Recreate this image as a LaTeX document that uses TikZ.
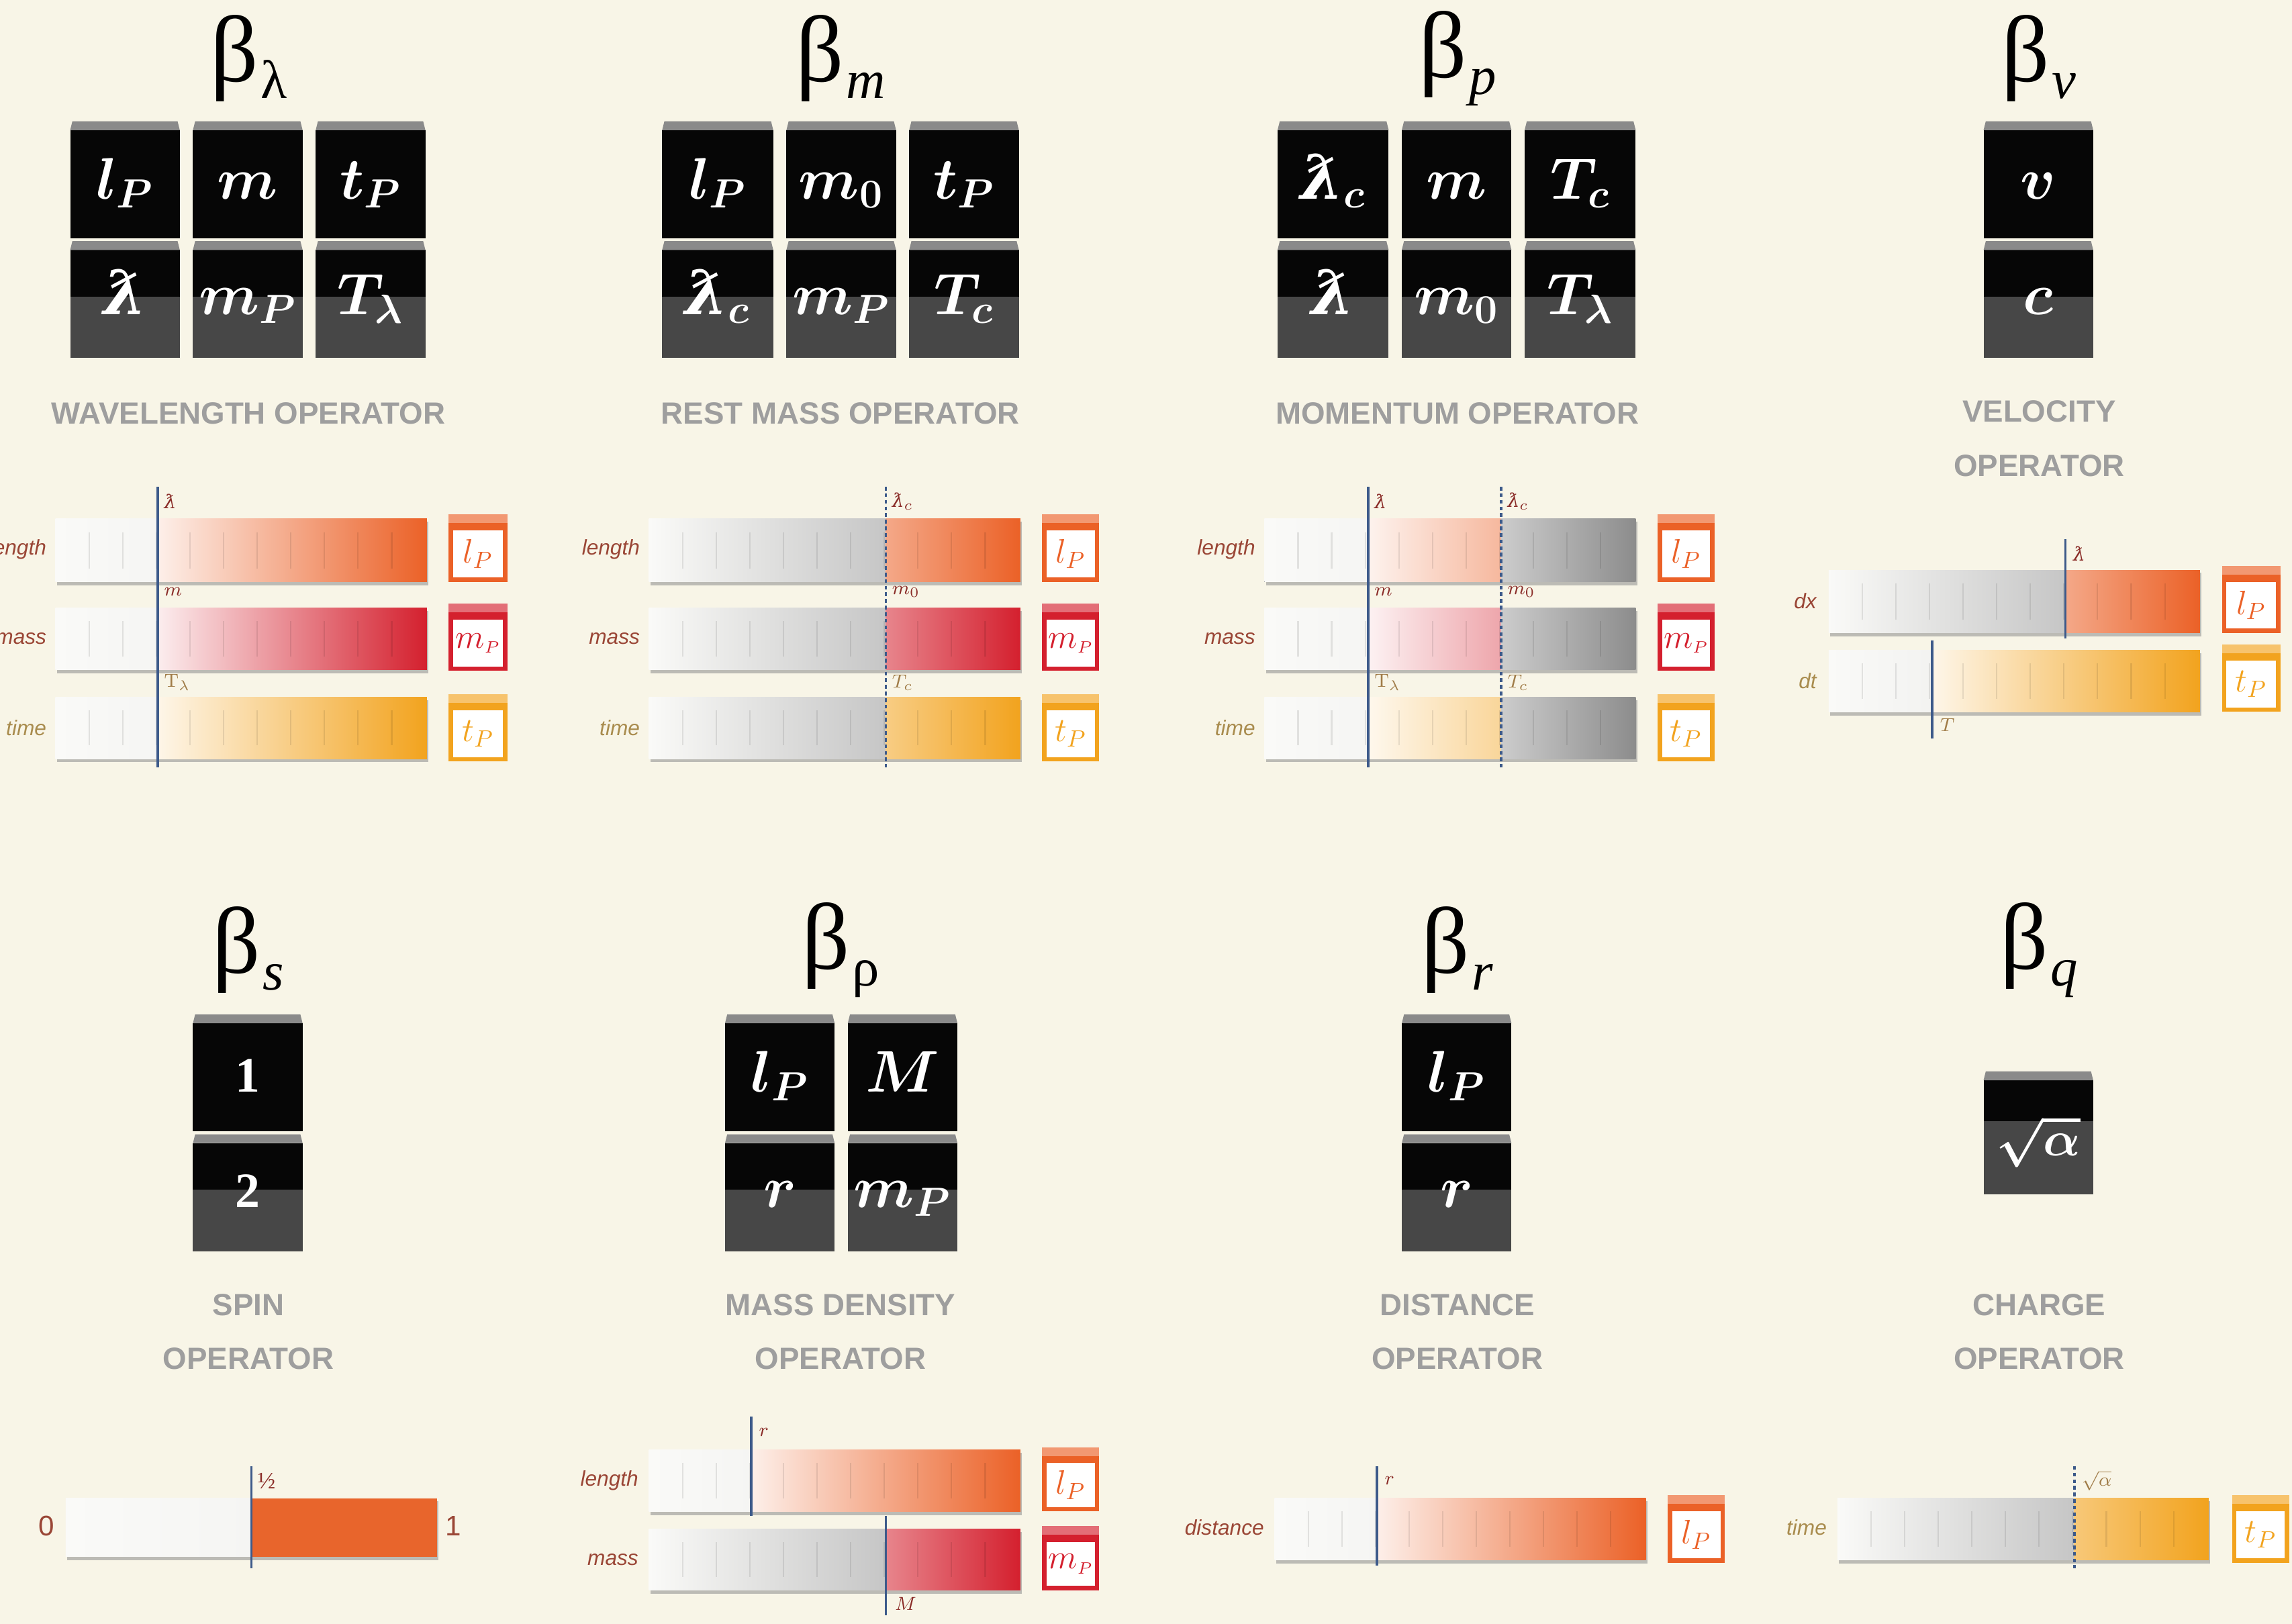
\documentclass[tikz,border=0pt]{standalone}
\usepackage[no-math]{fontspec}
\setmainfont{Liberation Serif}
\setsansfont{Liberation Sans}
\newfontfamily\dvserif{DejaVu Serif}
\definecolor{bg}{HTML}{F8F5E7}
\definecolor{blk}{HTML}{060606}
\definecolor{blkgray}{HTML}{474747}
\definecolor{strip}{HTML}{8A8A8A}
\definecolor{optext}{HTML}{9E9E9E}
\definecolor{lenc}{HTML}{EB6127}
\definecolor{massc}{HTML}{D4202E}
\definecolor{timec}{HTML}{F2A31E}
\definecolor{spinc}{HTML}{E8652C}
\definecolor{marker}{HTML}{3D5A8A}
\definecolor{lblred}{HTML}{9A4636}
\definecolor{lbltan}{HTML}{A98C4E}
\definecolor{mkred}{HTML}{8A2C28}
\definecolor{mktan}{HTML}{A07C48}
\definecolor{barwhite}{HTML}{FAFAF8}
\definecolor{bargray}{HTML}{C6C6C6}
\definecolor{bardark}{HTML}{8E8E8E}
\newcommand\lbarx{\mbox{\dvserif\itshape ƛ}}
\newcommand\lbarb{\mbox{\dvserif\bfseries\itshape ƛ}}
\newcommand\btitle[1]{\fontsize{40}{40}\selectfont β\kern1pt\raisebox{-7pt}{\fontsize{23}{23}\selectfont #1}}
\newcommand\blkTop[4]{%
  \fill[blk] (#1,{#2+6}) rectangle (#3,#4);
  \fill[strip] ({#1+1.5},#2) -- ({#3-1.5},#2) -- (#3,{#2+6}) -- (#1,{#2+6}) -- cycle;}
\newcommand\blkBot[5]{%
  \fill[blk] (#1,{#2+6}) rectangle (#3,#5);
  \fill[blkgray] (#1,#5) rectangle (#3,#4);
  \fill[strip] ({#1+1.5},#2) -- ({#3-1.5},#2) -- (#3,{#2+6}) -- (#1,{#2+6}) -- cycle;}
\newcommand\barshadow[4]{\fill[black!45,opacity=.55] ({#1+1},{#2+2}) rectangle ({#3+1},{#4+2.5});}
\newcommand\barseg[6]{\fill[left color=#5,right color=#6] (#1,#2) rectangle (#3,#4);}
\newcommand\barticks[4]{\foreach \k in {1,...,10}{\draw[black,opacity=.09,line width=.6pt] ({#1+23*\k},{#2+9}) -- ({#1+23*\k},{#4-9});}}
\newcommand\unitbox[7]{%
  \fill[#5] (#1,#2) rectangle (#3,#4);
  \fill[#5!65!white] (#1,#2) rectangle (#3,{#2+6});
  \fill[white] ({#1+3},{#2+11}) rectangle ({#3-3},{#4-3});
  \node[text=#5,font=\fontsize{14}{14}\selectfont,inner sep=0pt] (#6) at ({(#1+#3)/2},{(#2+#4+8)/2}) {#7};}
\begin{document}
\begin{tikzpicture}[x=0.021773cm,y=-0.021773cm,
  blocktxt/.style={text=white,font=\boldmath\fontsize{26}{26}\selectfont,inner sep=0pt,anchor=base},
  digit/.style={text=white,font=\bfseries\fontsize{21}{21}\selectfont,inner sep=0pt,anchor=base},
  optitle/.style={inner sep=0pt},
  oplabel/.style={text=optext,font=\sffamily\bfseries\fontsize{13}{22.9}\selectfont,inner sep=0pt,align=center},
  rowlbl/.style={font=\sffamily\itshape\fontsize{9}{9}\selectfont,inner sep=0pt,anchor=east},
  mklbl/.style={font=\fontsize{8}{8}\selectfont,inner sep=0pt,anchor=west},
  mk/.style={draw=marker,line width=1.1pt},
  mkdash/.style={mk,dash pattern=on 1.6pt off 1.2pt},
]
\fill[bg] (0,0) rectangle (1568,1111);
\useasboundingbox (0,0) rectangle (1568,1111);
\clip (0,0) rectangle (1568,1111);

% ================= Group 1: wavelength =================
\node[optitle] (t1) at (170,40) {\btitle{λ}};
\blkTop{48}{83}{123}{163}\blkTop{132}{83}{207}{163}\blkTop{216}{83}{291}{163}
\blkBot{48}{165}{123}{245}{203}\blkBot{132}{165}{207}{245}{203}\blkBot{216}{165}{291}{245}{203}
\node[blocktxt] (g1a) at (85.5,136) {$l_P$};
\node[blocktxt] (g1b) at (169.5,136) {$m$};
\node[blocktxt] (g1c) at (253.5,136) {$t_P$};
\node[blocktxt] (g1d) at (85.5,215) {$\lbarb$};
\node[blocktxt] (g1e) at (169.5,215) {$m_P$};
\node[blocktxt] (g1f) at (253.5,215) {$T_\lambda$};
\node[oplabel] (g1op) at (170,283) {WAVELENGTH OPERATOR};
% bars
\barshadow{38}{355}{292}{398}\barseg{38}{355}{108}{398}{barwhite}{barwhite!96!gray}\barseg{108}{355}{292}{398}{lenc!10!white}{lenc}\barticks{38}{355}{292}{398}
\barshadow{38}{416}{292}{458}\barseg{38}{416}{108}{458}{barwhite}{barwhite!96!gray}\barseg{108}{416}{292}{458}{massc!8!white}{massc}\barticks{38}{416}{292}{458}
\barshadow{38}{477}{292}{519}\barseg{38}{477}{108}{519}{barwhite}{barwhite!96!gray}\barseg{108}{477}{292}{519}{timec!10!white}{timec}\barticks{38}{477}{292}{519}
\draw[mk] (108,333) -- (108,525);
\node[mklbl,text=mkred] (g1m1) at (112,343) {$\lbarx$};
\node[mklbl,text=mkred] (g1m2) at (112,405) {$m$};
\node[mklbl,text=mktan] (g1m3) at (112,467) {$\mathrm{T}_\lambda$};
\node[rowlbl,text=lblred] (g1r1) at (32,376) {length};
\node[rowlbl,text=lblred] (g1r2) at (32,437) {mass};
\node[rowlbl,text=lbltan] (g1r3) at (32,498) {time};
\unitbox{307}{352}{347}{398}{lenc}{g1u1}{$l_P$}
\unitbox{307}{413}{347}{459}{massc}{g1u2}{$m_{\scriptscriptstyle P}$}
\unitbox{307}{475}{347}{521}{timec}{g1u3}{$t_P$}

% ================= Group 2: rest mass =================
\begin{scope}[shift={(406,0)}]
\node[optitle] (t2) at (169,40) {\btitle{\itshape m}};
\blkTop{47}{83}{123}{163}\blkTop{132}{83}{207}{163}\blkTop{216}{83}{291}{163}
\blkBot{47}{165}{123}{245}{203}\blkBot{132}{165}{207}{245}{203}\blkBot{216}{165}{291}{245}{203}
\node[blocktxt] (g2a) at (85,136) {$l_P$};
\node[blocktxt] (g2b) at (169.5,136) {$m_0$};
\node[blocktxt] (g2c) at (253.5,136) {$t_P$};
\node[blocktxt] (g2d) at (85,215) {$\lbarb_c$};
\node[blocktxt] (g2e) at (169.5,215) {$m_P$};
\node[blocktxt] (g2f) at (253.5,215) {$T_c$};
\node[oplabel] (g2op) at (169,283) {REST MASS OPERATOR};
\barshadow{38}{355}{292}{398}\barseg{38}{355}{200}{398}{barwhite}{bargray}\barseg{200}{355}{292}{398}{lenc!55!white}{lenc}\barticks{38}{355}{292}{398}
\barshadow{38}{416}{292}{458}\barseg{38}{416}{200}{458}{barwhite}{bargray}\barseg{200}{416}{292}{458}{massc!55!white}{massc}\barticks{38}{416}{292}{458}
\barshadow{38}{477}{292}{519}\barseg{38}{477}{200}{519}{barwhite}{bargray}\barseg{200}{477}{292}{519}{timec!55!white}{timec}\barticks{38}{477}{292}{519}
\draw[mkdash] (200,333) -- (200,525);
\node[mklbl,text=mkred] (g2m1) at (204,343) {$\lbarx_c$};
\node[mklbl,text=mkred] (g2m2) at (204,405) {$m_0$};
\node[mklbl,text=mktan] (g2m3) at (204,467) {$T_c$};
\node[rowlbl,text=lblred] (g2r1) at (32,376) {length};
\node[rowlbl,text=lblred] (g2r2) at (32,437) {mass};
\node[rowlbl,text=lbltan] (g2r3) at (32,498) {time};
\unitbox{307}{352}{346}{398}{lenc}{g2u1}{$l_P$}
\unitbox{307}{413}{346}{459}{massc}{g2u2}{$m_{\scriptscriptstyle P}$}
\unitbox{307}{475}{346}{521}{timec}{g2u3}{$t_P$}
\end{scope}

% ================= Group 3: momentum =================
\begin{scope}[shift={(827,0)}]
\node[optitle] (t3) at (170,40) {\btitle{\itshape p}};
\blkTop{47}{83}{123}{163}\blkTop{132}{83}{207}{163}\blkTop{216}{83}{292}{163}
\blkBot{47}{165}{123}{245}{203}\blkBot{132}{165}{207}{245}{203}\blkBot{216}{165}{292}{245}{203}
\node[blocktxt] (g3a) at (85,136) {$\lbarb_c$};
\node[blocktxt] (g3b) at (169.5,136) {$m$};
\node[blocktxt] (g3c) at (254,136) {$T_c$};
\node[blocktxt] (g3d) at (85,215) {$\lbarb$};
\node[blocktxt] (g3e) at (169.5,215) {$m_0$};
\node[blocktxt] (g3f) at (254,215) {$T_\lambda$};
\node[oplabel] (g3op) at (170,283) {MOMENTUM OPERATOR};
\barshadow{38}{355}{292}{398}\barseg{38}{355}{109}{398}{barwhite}{barwhite!96!gray}\barseg{109}{355}{200}{398}{lenc!8!white}{lenc!45!white}\barseg{200}{355}{292}{398}{black!20}{black!45}\barticks{38}{355}{292}{398}
\barshadow{38}{416}{292}{458}\barseg{38}{416}{109}{458}{barwhite}{barwhite!96!gray}\barseg{109}{416}{200}{458}{massc!6!white}{massc!40!white}\barseg{200}{416}{292}{458}{black!20}{black!45}\barticks{38}{416}{292}{458}
\barshadow{38}{477}{292}{519}\barseg{38}{477}{109}{519}{barwhite}{barwhite!96!gray}\barseg{109}{477}{200}{519}{timec!8!white}{timec!45!white}\barseg{200}{477}{292}{519}{black!20}{black!45}\barticks{38}{477}{292}{519}
\draw[mk] (109,333) -- (109,525);
\draw[mkdash] (200,333) -- (200,525);
\node[mklbl,text=mkred] (g3m1) at (113,343) {$\lbarx$};
\node[mklbl,text=mkred] (g3m2) at (113,405) {$m$};
\node[mklbl,text=mktan] (g3m3) at (113,467) {$\mathrm{T}_\lambda$};
\node[mklbl,text=mkred] (g3m4) at (204,343) {$\lbarx_c$};
\node[mklbl,text=mkred] (g3m5) at (204,405) {$m_0$};
\node[mklbl,text=mktan] (g3m6) at (204,467) {$T_c$};
\node[rowlbl,text=lblred] (g3r1) at (32,376) {length};
\node[rowlbl,text=lblred] (g3r2) at (32,437) {mass};
\node[rowlbl,text=lbltan] (g3r3) at (32,498) {time};
\unitbox{307}{352}{346}{398}{lenc}{g3u1}{$l_P$}
\unitbox{307}{413}{346}{459}{massc}{g3u2}{$m_{\scriptscriptstyle P}$}
\unitbox{307}{475}{346}{521}{timec}{g3u3}{$t_P$}
\end{scope}

% ================= Group 4: velocity =================
\node[optitle] (t4) at (1395,40) {\btitle{\itshape v}};
\blkTop{1357}{83}{1432}{163}
\blkBot{1357}{165}{1432}{245}{203}
\node[blocktxt] (g4a) at (1394.5,136) {$v$};
\node[blocktxt] (g4b) at (1394.5,215) {$c$};
\node[oplabel] (g4op) at (1395,300) {VELOCITY\\OPERATOR};
\barshadow{1251}{390}{1505}{433}\barseg{1251}{390}{1413}{433}{barwhite}{bargray}\barseg{1413}{390}{1505}{433}{lenc!55!white}{lenc}\barticks{1251}{390}{1505}{433}
\barshadow{1251}{445}{1505}{487}\barseg{1251}{445}{1322}{487}{barwhite}{barwhite!94!gray}\barseg{1322}{445}{1505}{487}{timec!10!white}{timec}\barticks{1251}{445}{1505}{487}
\draw[mk] (1413,369) -- (1413,437);
\draw[mk] (1322,438) -- (1322,505);
\node[mklbl,text=mkred] (g4m1) at (1418,379) {$\lbarx$};
\node[mklbl,text=mktan] (g4m2) at (1327,496) {$T$};
\node[rowlbl,text=lblred] (g4r1) at (1243,411) {dx};
\node[rowlbl,text=lbltan] (g4r2) at (1243,466) {dt};
\unitbox{1520}{387}{1560}{433}{lenc}{g4u1}{$l_P$}
\unitbox{1520}{441}{1560}{487}{timec}{g4u2}{$t_P$}

% ================= Group 5: spin =================
\node[optitle] (t5) at (170,650) {\btitle{\itshape s}};
\blkTop{132}{694}{207}{774}
\blkBot{132}{776}{207}{856}{814}
\node[digit] (g5a) at (169.5,747) {1};
\node[digit] (g5b) at (169.5,826) {2};
\node[oplabel] (g5op) at (170,911) {SPIN\\OPERATOR};
\barshadow{45}{1025}{299}{1065}
\barseg{45}{1025}{172}{1065}{barwhite}{barwhite!96!gray}
\fill[spinc] (172,1025) rectangle (299,1065);
\draw[mk] (172,1003) -- (172,1073);
\node[mklbl,text=mkred,font=\fontsize{10}{10}\selectfont] (g5m) at (176,1013) {½};
\node[text=lblred,font=\sffamily\fontsize{12}{12}\selectfont,inner sep=0pt] (g5z) at (32,1044) {0};
\node[text=lblred,font=\sffamily\fontsize{12}{12}\selectfont,inner sep=0pt] (g5o) at (310,1044) {1};

% ================= Group 6: mass density =================
\node[optitle] (t6) at (575,650) {\btitle{ρ}};
\blkTop{496}{694}{571}{774}\blkTop{580}{694}{655}{774}
\blkBot{496}{776}{571}{856}{814}\blkBot{580}{776}{655}{856}{814}
\node[blocktxt] (g6a) at (533.5,747) {$l_P$};
\node[blocktxt] (g6b) at (617.5,747) {$M$};
\node[blocktxt] (g6c) at (533.5,826) {$r$};
\node[blocktxt] (g6d) at (617.5,826) {$m_P$};
\node[oplabel] (g6op) at (575,911) {MASS DENSITY\\OPERATOR};
\barshadow{444}{992}{698}{1034}\barseg{444}{992}{514}{1034}{barwhite}{barwhite!96!gray}\barseg{514}{992}{698}{1034}{lenc!10!white}{lenc}\barticks{444}{992}{698}{1034}
\barshadow{444}{1046}{698}{1088}\barseg{444}{1046}{606}{1088}{barwhite}{bargray}\barseg{606}{1046}{698}{1088}{massc!55!white}{massc}\barticks{444}{1046}{698}{1088}
\draw[mk] (514,969) -- (514,1037);
\draw[mk] (606,1037) -- (606,1105);
\node[mklbl,text=mkred] (g6m1) at (519,980) {$r$};
\node[mklbl,text=mkred] (g6m2) at (612,1097) {$M$};
\node[rowlbl,text=lblred] (g6r1) at (437,1013) {length};
\node[rowlbl,text=lblred] (g6r2) at (437,1067) {mass};
\unitbox{713}{990}{752}{1034}{lenc}{g6u1}{$l_P$}
\unitbox{713}{1044}{752}{1088}{massc}{g6u2}{$m_{\scriptscriptstyle P}$}

% ================= Group 7: distance =================
\node[optitle] (t7) at (997,650) {\btitle{\itshape r}};
\blkTop{959}{694}{1034}{774}
\blkBot{959}{776}{1034}{856}{814}
\node[blocktxt] (g7a) at (996.5,747) {$l_P$};
\node[blocktxt] (g7b) at (996.5,826) {$r$};
\node[oplabel] (g7op) at (997,911) {DISTANCE\\OPERATOR};
\barshadow{872}{1025}{1126}{1067}\barseg{872}{1025}{942}{1067}{barwhite}{barwhite!96!gray}\barseg{942}{1025}{1126}{1067}{lenc!10!white}{lenc}\barticks{872}{1025}{1126}{1067}
\draw[mk] (942,1003) -- (942,1071);
\node[mklbl,text=mkred] (g7m) at (947,1013) {$r$};
\node[rowlbl,text=lblred] (g7r) at (865,1045) {distance};
\unitbox{1141}{1023}{1180}{1069}{lenc}{g7u}{$l_P$}

% ================= Group 8: charge =================
\node[optitle] (t8) at (1395,650) {\btitle{\itshape q}};
\blkBot{1357}{733}{1432}{817}{767}
\node[text=white,font=\boldmath\fontsize{20}{20}\selectfont,inner sep=0pt] (g8a) at (1394.5,781) {$\sqrt{\alpha}$};
\node[oplabel] (g8op) at (1395,911) {CHARGE\\OPERATOR};
\barshadow{1257}{1025}{1511}{1067}\barseg{1257}{1025}{1419}{1067}{barwhite}{bargray}\barseg{1419}{1025}{1511}{1067}{timec!60!white}{timec}\barticks{1257}{1025}{1511}{1067}
\draw[mkdash] (1419,1003) -- (1419,1073);
\node[mklbl,text=mktan] (g8m) at (1424,1013) {$\sqrt{\alpha}$};
\node[rowlbl,text=lbltan] (g8r) at (1250,1045) {time};
\unitbox{1527}{1023}{1566}{1069}{timec}{g8u}{$t_P$}
\end{tikzpicture}
\end{document}
